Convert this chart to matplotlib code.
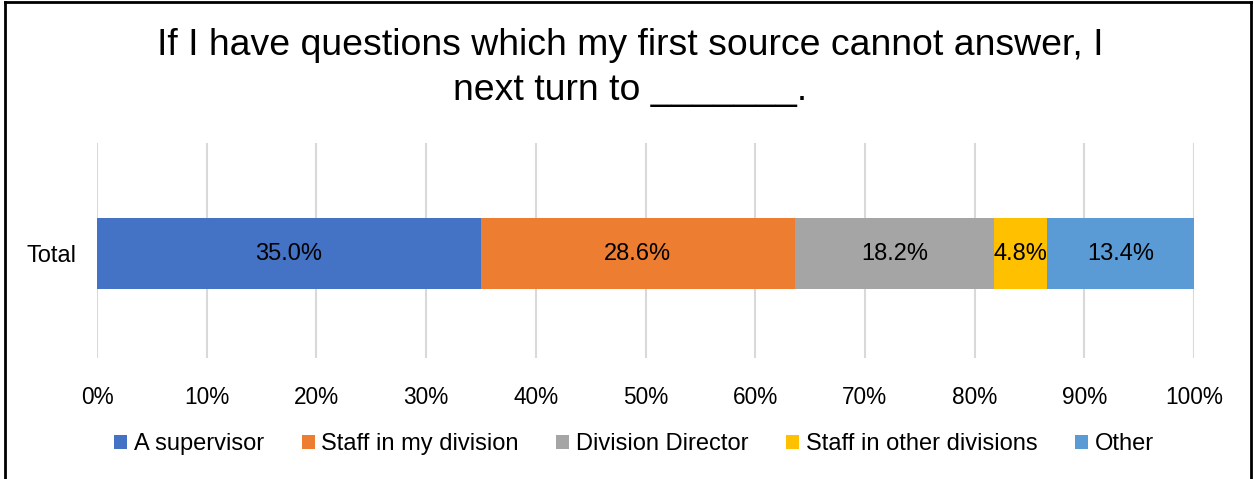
import matplotlib
matplotlib.use("Agg")
import matplotlib.pyplot as plt
from matplotlib.patches import Patch
from matplotlib.lines import Line2D

plt.rcParams['font.family'] = ['Liberation Sans', 'DejaVu Sans']

categories = ["Total"]
series_names = ["A supervisor", "Staff in my division", "Division Director",
                "Staff in other divisions", "Other"]
series_values = [35.0, 28.6, 18.2, 4.8, 13.4]
series_colors = ["#4472C4", "#ED7D31", "#A5A5A5", "#FFC000", "#5B9BD5"]
x_ticks = [0, 10, 20, 30, 40, 50, 60, 70, 80, 90, 100]
x_tick_labels = [f"{t}%" for t in x_ticks]
title = "If I have questions which my first source cannot answer, I\nnext turn to _______."

W, H = 1254, 479
fig = plt.figure(figsize=(W / 100, H / 100), dpi=100)

# plot area in pixel units
left, right, top, bottom = 97, 1194, 143, 358
ax = fig.add_axes([left / W, 1 - bottom / H, (right - left) / W, (bottom - top) / H])

bar_h = 0.33
start = 0.0
for name, val, col in zip(series_names, series_values, series_colors):
    ax.barh(0, val, left=start, height=bar_h, color=col, label=name, zorder=3)
    ax.text(start + val / 2, 0, f"{val:.1f}%", ha="center", va="center",
            fontsize=17, color="black", zorder=4)
    start += val

ax.set_xlim(0, 100)
ax.set_ylim(-104.5 / 215, 110.5 / 215)
ax.set_xticks(x_ticks)
ax.set_xticklabels(x_tick_labels, fontsize=16.3)
ax.set_yticks([0])
ax.set_yticklabels(categories, fontsize=17)
ax.tick_params(axis="both", length=0)
ax.tick_params(axis="x", pad=20)
ax.tick_params(axis="y", pad=15)
ax.grid(axis="x", color="#D9D9D9", linewidth=1.5, zorder=0)
for s in ax.spines.values():
    s.set_visible(False)

fig.text(630 / W, 1 - 68 / H, title, ha="center", va="center",
         fontsize=26.9, linespacing=1.35)

handles = [Patch(facecolor=c, edgecolor="none") for c in series_colors]
fig.legend(handles, series_names, loc="center", bbox_to_anchor=(634 / W, 1 - 444 / H),
           ncol=5, frameon=False, fontsize=17, handlelength=0.55, handleheight=0.55,
           handletextpad=0.28, columnspacing=1.6, borderpad=0)

# chart border
for xs, ys in [([5, 5], [2, H + 5]), ([5, 1251], [2, 2]), ([1251, 1251], [2, H + 5])]:
    fig.add_artist(Line2D([x / W for x in xs], [1 - y / H for y in ys],
                          color="black", linewidth=2, transform=fig.transFigure))

fig.savefig("out.png", dpi=100)
